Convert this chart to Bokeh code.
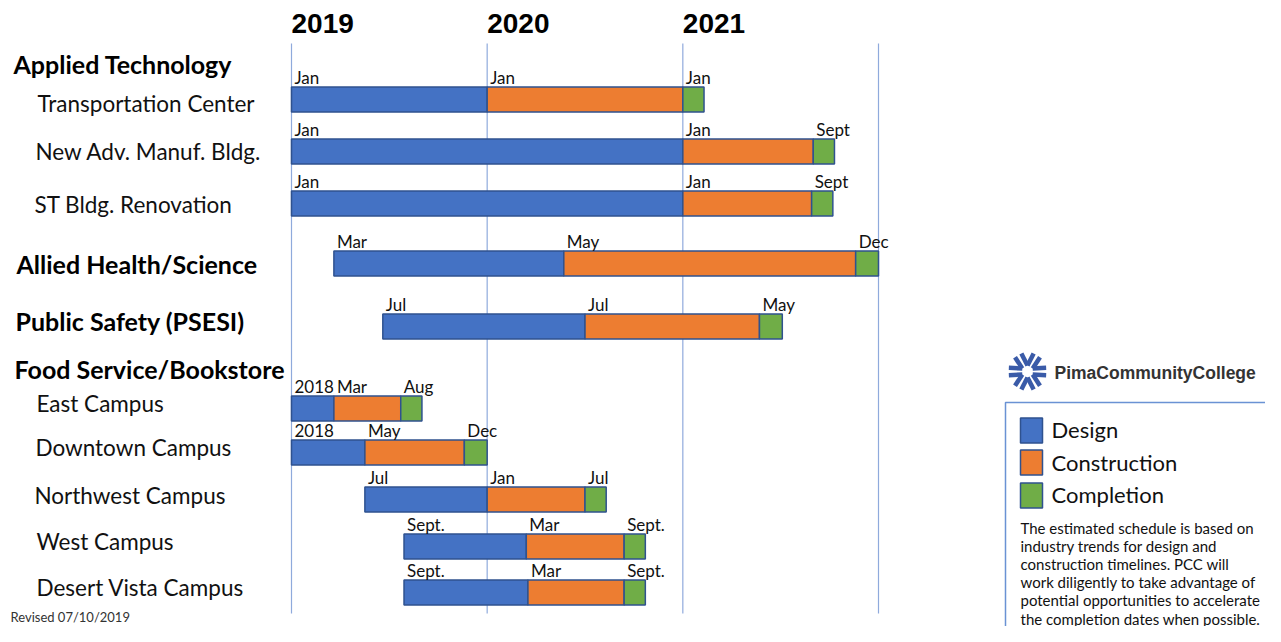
import math
from bokeh.plotting import figure
from bokeh.models import Range1d, ColumnDataSource
from bokeh.core.properties import value
from bokeh.embed import file_html
from bokeh.resources import INLINE

# ---------------- data (months since Jan 2019) ----------------
projects = ["Transportation Center", "New Adv. Manuf. Bldg.", "ST Bldg. Renovation",
            "Allied Health/Science", "Public Safety (PSESI)", "East Campus",
            "Downtown Campus", "Northwest Campus", "West Campus", "Desert Vista Campus"]
design_start = [0, 0, 0, 2.6, 5.6, 0, 0, 4.5, 6.9, 6.9]
construction_start = [12, 24, 24, 16.7, 18.0, 2.6, 4.5, 12, 14.4, 14.5]
completion_start = [24, 32, 31.9, 34.6, 28.7, 6.7, 10.6, 18.0, 20.4, 20.4]
completion_end = [25.3, 33.3, 33.2, 36.0, 30.1, 8.0, 12.0, 19.3, 21.7, 21.7]
design_label = ["Jan", "Jan", "Jan", "Mar", "Jul", "2018", "2018", "Jul", "Sept.", "Sept."]
construction_label = ["Jan", "Jan", "Jan", "May", "Jul", "Mar", "May", "Jan", "Mar", "Mar"]
completion_label = ["Jan", "Sept", "Sept", "Dec", "May", "Aug", "Dec", "Jul", "Sept.", "Sept."]
year_labels = ["2019", "2020", "2021"]
year_ticks = [0, 12, 24]
year_lines = [0, 12, 24, 36]
groups = ["Applied Technology", "Allied Health/Science", "Public Safety (PSESI)", "Food Service/Bookstore"]
sub_labels = ["Transportation Center", "New Adv. Manuf. Bldg.", "ST Bldg. Renovation",
              "East Campus", "Downtown Campus", "Northwest Campus", "West Campus", "Desert Vista Campus"]
legend_names = ["Design", "Construction", "Completion"]
note_lines = ["The estimated schedule is based on",
              "industry trends for design and",
              "construction timelines. PCC will",
              "work diligently to take advantage of",
              "potential opportunities to accelerate",
              "the completion dates when possible."]

# ---------------- layout ----------------
PX0 = 291.0            # screen x of Jan 2019
PPM = (878.0 - 291.0) / 36.0   # pixels per month
W, H = 1265, 626
def sx(px):
    return (px - PX0) / PPM

bar_y = [99, 151, 203, 263, 326, 408, 452, 499, 546, 592]
group_x = [13, 16, 15, 14]
group_y = [63, 263, 320, 368]
sub_x = [37, 35, 34, 36, 35, 34, 36, 36]
sub_y = [103, 151, 204, 403, 447, 495, 541, 587]

BLUE, ORANGE, GREEN = "#4472C4", "#ED7D31", "#70AD47"
EDGE = "#2F528F"
FONT = value("Lato")

p = figure(width=W, height=H, x_range=Range1d(sx(0), sx(W)),
           y_range=Range1d(H, 0), output_backend="svg", toolbar_location=None,
           min_border=0, x_axis_location=None, y_axis_location=None)
p.grid.visible = False
p.outline_line_color = None
p.background_fill_color = "white"

# year grid lines
p.segment(x0=year_lines, x1=year_lines, y0=[43] * 4, y1=[613] * 4,
          line_color="#8FAADC", line_width=1.2)

src = ColumnDataSource(dict(y=bar_y, ds=design_start, cs=construction_start,
                            ps=completion_start, pe=completion_end,
                            dl=design_label, cl=construction_label, pl=completion_label,
                            ly=[v - 22 for v in bar_y]))
p.hbar(y="y", left="ds", right="cs", height=25, source=src,
       fill_color=BLUE, line_color=EDGE, line_width=1.5)
p.hbar(y="y", left="cs", right="ps", height=25, source=src,
       fill_color=ORANGE, line_color=EDGE, line_width=1.5)
p.hbar(y="y", left="ps", right="pe", height=25, source=src,
       fill_color=GREEN, line_color=EDGE, line_width=1.5)

for col, lab in [("ds", "dl"), ("cs", "cl"), ("ps", "pl")]:
    p.text(x=col, y="ly", text=lab, source=src, x_offset=3, text_baseline="middle",
           text_font=FONT, text_font_size="17px", text_color="#111111")

# year headers
p.text(x=year_ticks, y=[23] * 3, text=year_labels, x_offset=0, text_baseline="middle",
       text_font=value("Liberation Sans"), text_font_style="bold",
       text_font_size="28px", text_color="black")

# left labels
p.text(x=[sx(v) for v in group_x], y=group_y, text=groups, text_baseline="middle",
       text_font=FONT, text_font_style="bold", text_font_size="25px", text_color="black")
p.text(x=[sx(v) for v in sub_x], y=sub_y, text=sub_labels, text_baseline="middle",
       text_font=FONT, text_font_size="22.5px", text_color="#111111")

# revised
p.text(x=[sx(10)], y=[616], text=["Revised 07/10/2019"], text_baseline="middle",
       text_font=FONT, text_font_size="13px", text_color="#333333")

# logo icon
cx, cy = sx(1027), 371
x0s, y0s, x1s, y1s = [], [], [], []
for k in range(6):
    a = math.radians(90 + 60 * k)
    for d in (-0.33, 0.33):
        r0, r1 = 6, 19
        x0s.append(cx + r0 * math.cos(a) / PPM)
        y0s.append(cy - r0 * math.sin(a))
        x1s.append(cx + r1 * math.cos(a + d) / PPM)
        y1s.append(cy - r1 * math.sin(a + d))
p.segment(x0=x0s, y0=y0s, x1=x1s, y1=y1s, line_color="#3A5BA8", line_width=4.5)
p.text(x=[sx(1054)], y=[372], text=["PimaCommunityCollege"], text_baseline="middle",
       text_font=value("Liberation Sans"), text_font_style="bold",
       text_font_size="17.5px", text_color="#333333")

# legend box
p.quad(left=[sx(1005)], right=[sx(1300)], top=[402], bottom=[660],
       fill_color=None, line_color="#6A92D4", line_width=1.5)
p.rect(x=[sx(1031)] * 3, y=[430, 462, 495], width=22 / PPM, height=25,
       fill_color=[BLUE, ORANGE, GREEN], line_color=EDGE, line_width=1.5)
p.text(x=[sx(1051)] * 3, y=[429, 462, 494], text=legend_names, text_baseline="middle",
       text_font=FONT, text_font_size="22px", text_color="#111111")
p.text(x=[sx(1020)] * 6, y=[527 + 18.2 * i for i in range(6)], text=note_lines,
       text_baseline="middle", text_font=FONT, text_font_size="15px", text_color="#111111")

open("out.html", "w").write(file_html(p, INLINE))
